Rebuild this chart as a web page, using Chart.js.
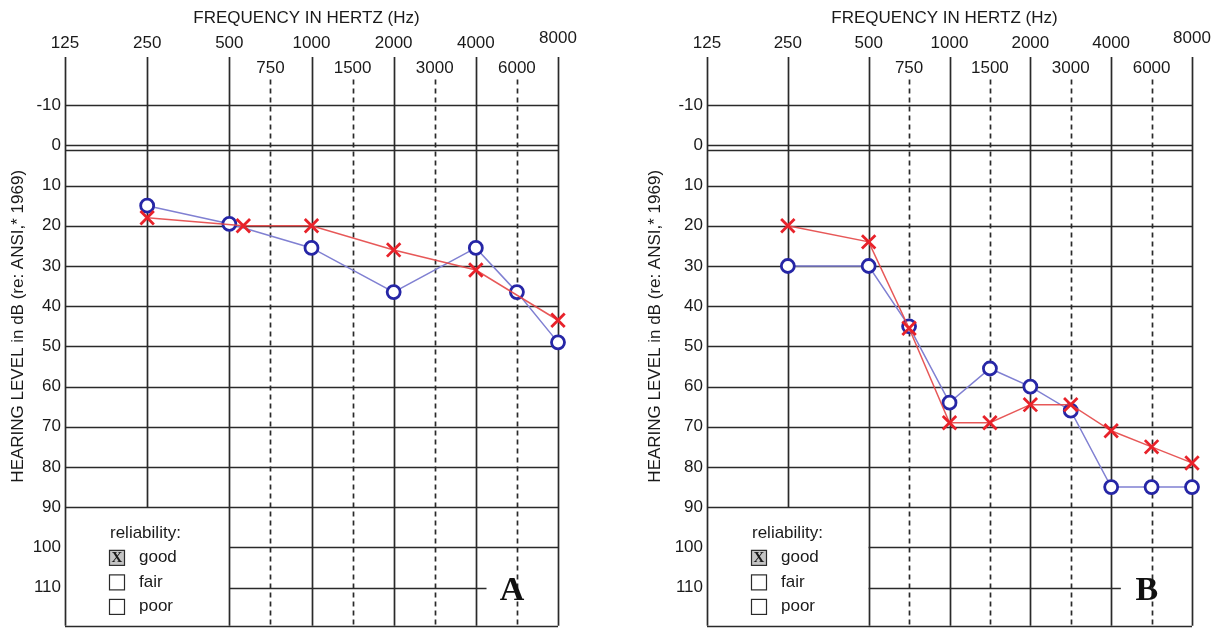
<!DOCTYPE html>
<html>
<head>
    <title>Audiograms A and B</title>
    <script src="https://cdn.jsdelivr.net/npm/chart.js"></script>
    <style>
        body { margin: 0; background: #fff; }
        #wrap { display: flex; width: 1224px; height: 638px; }
        canvas { display: block; }
    </style>
</head>
<body>
    <div id="wrap">
        <canvas id="chartA" width="612" height="638"></canvas>
        <canvas id="chartB" width="612" height="638"></canvas>
    </div>

    <script>
        // frequency axis: solid octave lines and dashed half-octave lines
        const octaveFreqs = [125, 250, 500, 1000, 2000, 4000, 8000];
        const halfFreqs = [750, 1500, 3000, 6000];
        // hearing level axis (dB)
        const dbTicks = [-10, 0, 10, 20, 30, 40, 50, 60, 70, 80, 90, 100, 110];

        // audiogram A
        const aCircleFreqs = [250, 500, 1000, 2000, 4000, 6000, 8000];
        const aCircleDb = [15, 19.5, 25.5, 36.5, 25.5, 36.5, 49];
        const aCrossFreqs = [250, 500, 1000, 2000, 4000, 8000];
        const aCrossDb = [18, 20, 20, 26, 31, 43.5];
        const aCrossShift = [0, 0.17, 0, 0, 0, 0]; // the X at 500 sits a little right of the line

        // audiogram B
        const bFreqs = [250, 500, 750, 1000, 1500, 2000, 3000, 4000, 6000, 8000];
        const bCircleDb = [30, 30, 45, 64, 55.5, 60, 66, 85, 85, 85];
        const bCrossDb = [20, 24, 45.5, 69, 69, 64.5, 64.5, 71, 75, 79];

        // 125 Hz = 0, 250 = 1 ... half-octave frequencies sit midway between lines
        function octPos(f) {
            if (halfFreqs.includes(f)) return Math.log2(f / 1.5 / 125) + 0.5;
            return Math.log2(f / 125);
        }

        function points(freqs, dbs, shift) {
            return freqs.map((f, i) => ({ x: octPos(f) + (shift ? shift[i] : 0), y: dbs[i] }));
        }

        const FONT = '"Liberation Sans", Arial, sans-serif';

        const audiogramGrid = {
            id: 'audiogramGrid',
            beforeDatasetsDraw(chart, args, opts) {
                const { ctx, chartArea: area, scales: { x, y } } = chart;
                ctx.save();
                ctx.strokeStyle = '#2a2a2a';
                ctx.lineWidth = 1.7;

                function hline(db, from, to) {
                    const py = Math.round(y.getPixelForValue(db)) + 0.5;
                    ctx.beginPath();
                    ctx.moveTo(x.getPixelForValue(from), py);
                    ctx.lineTo(x.getPixelForValue(to), py);
                    ctx.stroke();
                }
                function vline(pos, fromDb, toDb, dashed) {
                    const px = Math.round(x.getPixelForValue(pos)) + 0.5;
                    ctx.setLineDash(dashed ? [5, 4] : []);
                    ctx.beginPath();
                    ctx.moveTo(px, y.getPixelForValue(fromDb));
                    ctx.lineTo(px, y.getPixelForValue(toDb));
                    ctx.stroke();
                    ctx.setLineDash([]);
                }

                // horizontal grid
                dbTicks.filter(d => d <= 90).forEach(d => hline(d, 0, 6));
                hline(1.2, 0, 6); // double line at 0 dB
                hline(100, 2, 6);
                hline(110, 2, opts.cutAt);
                hline(y.max, 0, 6);

                // vertical grid
                octaveFreqs.forEach(f => vline(octPos(f), y.min, f === 250 ? 90 : y.max, false));
                halfFreqs.forEach(f => vline(octPos(f), -16.4, y.max, true));

                // text
                ctx.fillStyle = '#1a1a1a';
                ctx.font = '17px ' + FONT;
                ctx.textAlign = 'center';
                ctx.textBaseline = 'middle';
                ctx.fillText('FREQUENCY IN HERTZ (Hz)', (area.left + area.right) / 2 - 5, 18);
                octaveFreqs.forEach(f => {
                    ctx.fillText(String(f), x.getPixelForValue(octPos(f)), f === 8000 ? 38 : 43);
                });
                halfFreqs.forEach(f => ctx.fillText(String(f), x.getPixelForValue(octPos(f)), 68));

                ctx.textAlign = 'right';
                dbTicks.forEach(d => ctx.fillText(String(d), area.left - 4, y.getPixelForValue(d)));

                ctx.save();
                ctx.translate(area.left - opts.titleGap, y.getPixelForValue(45));
                ctx.rotate(-Math.PI / 2);
                ctx.textAlign = 'center';
                ctx.font = '17px ' + FONT;
                ctx.fillText('HEARING LEVEL in dB (re: ANSI,* 1969)', 0, 0);
                ctx.restore();

                // reliability box
                ctx.textAlign = 'left';
                ctx.font = '17px ' + FONT;
                ctx.fillText('reliability:', area.left + 45, y.getPixelForValue(96.5));
                ['good', 'fair', 'poor'].forEach((t, i) => {
                    const cy = y.getPixelForValue(102.5 + i * 6.1);
                    const bx = area.left + 44, size = 15;
                    ctx.fillStyle = i === 0 ? '#c4c4c4' : '#fff';
                    ctx.fillRect(bx, cy - size / 2, size, size);
                    ctx.lineWidth = 1.2;
                    ctx.strokeRect(bx + 0.5, cy - size / 2 + 0.5, size, size);
                    ctx.fillStyle = '#1a1a1a';
                    if (i === 0) {
                        ctx.save();
                        ctx.font = 'bold 15px "Liberation Serif", serif';
                        ctx.textAlign = 'center';
                        ctx.fillText('X', bx + size / 2 + 0.5, cy + 1);
                        ctx.restore();
                    }
                    ctx.fillText(t, area.left + 74, cy);
                });

                // panel letter
                ctx.font = 'bold 34px "Liberation Serif", "Times New Roman", serif';
                ctx.textAlign = 'center';
                ctx.fillStyle = '#111';
                ctx.fillText(opts.letter, x.getPixelForValue(5.44), y.getPixelForValue(111));
                ctx.restore();
            }
        };

        function makeChart(id, crossPts, circlePts, padding, pluginOpts) {
            return new Chart(document.getElementById(id), {
                type: 'line',
                data: {
                    datasets: [{
                        label: 'X',
                        data: crossPts,
                        borderColor: 'rgba(228,70,70,0.9)',
                        borderWidth: 1.5,
                        pointStyle: 'crossRot',
                        pointRadius: 9.5,
                        pointBorderColor: '#e8222a',
                        pointBackgroundColor: '#e8222a',
                        pointBorderWidth: 2.8,
                        clip: false
                    }, {
                        label: 'O',
                        data: circlePts,
                        borderColor: '#8080d2',
                        borderWidth: 1.5,
                        pointStyle: 'circle',
                        pointRadius: 6.5,
                        pointBorderColor: '#2626a6',
                        pointBackgroundColor: '#fff',
                        pointBorderWidth: 2.8,
                        clip: false
                    }]
                },
                options: {
                    responsive: false,
                    animation: false,
                    devicePixelRatio: 1,
                    layout: { padding: padding },
                    scales: {
                        x: { type: 'linear', min: 0, max: 6, display: false },
                        y: { type: 'linear', min: -22, max: 119.5, reverse: true, display: false }
                    },
                    plugins: {
                        legend: { display: false },
                        tooltip: { enabled: false },
                        audiogramGrid: pluginOpts
                    }
                },
                plugins: [audiogramGrid]
            });
        }

        makeChart('chartA',
            points(aCrossFreqs, aCrossDb, aCrossShift),
            points(aCircleFreqs, aCircleDb),
            { left: 65, right: 54, top: 57, bottom: 5 },
            { letter: 'A', cutAt: 5.13, titleGap: 47 });

        makeChart('chartB',
            points(bFreqs, bCrossDb),
            points(bFreqs, bCircleDb),
            { left: 95, right: 32, top: 57, bottom: 5 },
            { letter: 'B', cutAt: 5.12, titleGap: 52 });
    </script>
</body>
</html>
